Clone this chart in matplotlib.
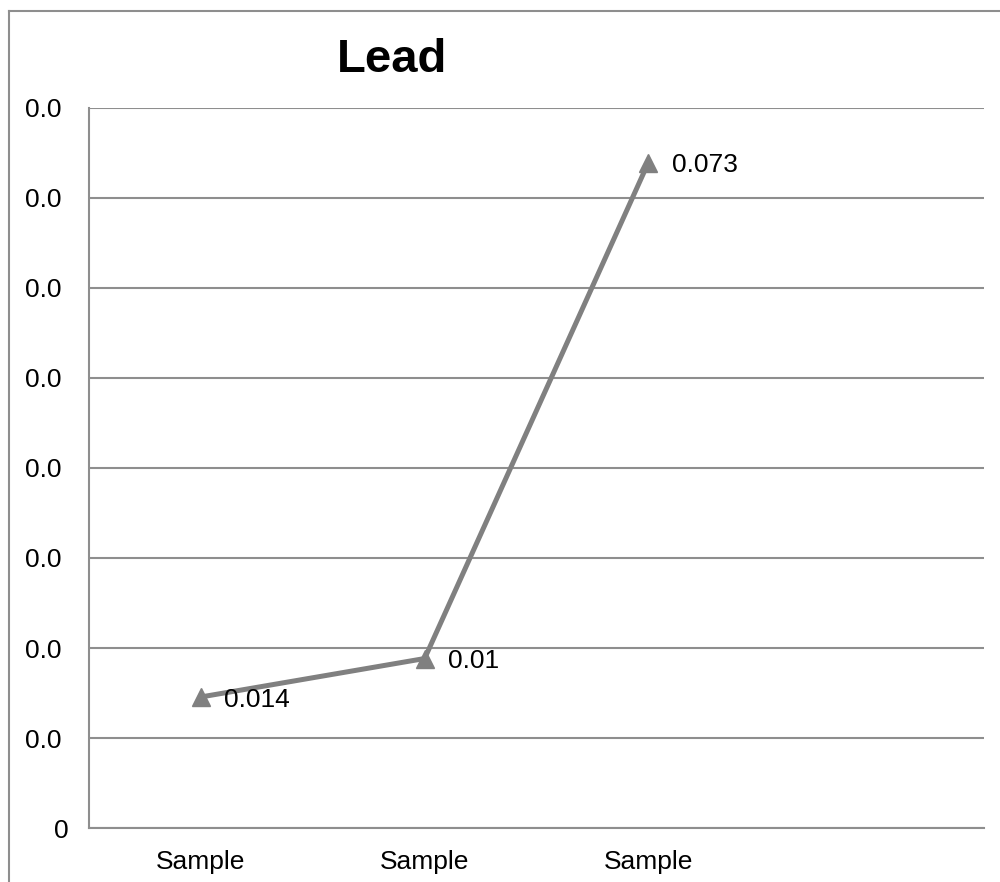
import matplotlib
matplotlib.use("Agg")
import matplotlib.pyplot as plt
from matplotlib.lines import Line2D
from matplotlib.transforms import ScaledTranslation

plt.rcParams["font.family"] = ["Liberation Sans", "DejaVu Sans"]

# data
categories = ["Sample", "Sample", "Sample", ""]
values = [0.01456, 0.01883, 0.07394]
point_labels = ["0.014", "0.01", "0.073"]
y_ticks = [0, 0.01, 0.02, 0.03, 0.04, 0.05, 0.06, 0.07, 0.08]
y_ticklabels = ["0", "0.0", "0.0", "0.0", "0.0", "0.0", "0.0", "0.0", "0.0"]

fig = plt.figure(figsize=(10, 8.82), dpi=100)
ax = fig.add_axes([0.089, 0.0612, 0.895, 0.8164])

gray = "#808080"
grid_gray = "#8e8e8e"

xs = list(range(len(values)))
ax.plot(xs, values, color=gray, lw=3.6, marker="^", ms=13.5, mec=gray, mfc=gray,
        solid_capstyle="butt", zorder=3)
for x, v, lab in zip(xs, values, point_labels):
    ax.annotate(lab, (x, v), xytext=(17, -2), textcoords="offset points",
                ha="left", va="center", fontsize=19, color="black")

ax.set_xlim(-0.5, len(categories) - 0.5)
ax.set_ylim(0, 0.08)
ax.set_yticks(y_ticks)
ax.set_yticklabels(y_ticklabels)
ax.set_xticks(range(len(categories)))
ax.set_xticklabels(categories)
ax.tick_params(axis="both", length=0, labelsize=19)
ax.tick_params(axis="y", pad=20)
ax.tick_params(axis="x", pad=16)

ax.yaxis.grid(True, color=grid_gray, lw=1.5)
ax.set_axisbelow(True)
for side in ["top", "right"]:
    ax.spines[side].set_visible(False)
for side in ["left", "bottom"]:
    ax.spines[side].set_color(grid_gray)
    ax.spines[side].set_linewidth(1.5)

fig.text(0.392, 1 - 60 / 882, "Lead", ha="center", va="center",
         fontsize=34, fontweight="bold")

# outer chart border (right and bottom edges fall outside the image)
fig.add_artist(Line2D([9 / 1000, 9 / 1000], [1 - 11 / 882, -0.1],
                      transform=fig.transFigure, color=grid_gray, lw=1.5))
fig.add_artist(Line2D([9 / 1000, 1.1], [1 - 11 / 882, 1 - 11 / 882],
                      transform=fig.transFigure, color=grid_gray, lw=1.5))

# the "0" label sits a little further right than the others
fig.canvas.draw()
zero_lab = ax.get_yticklabels()[0]
zero_lab.set_transform(zero_lab.get_transform()
                       + ScaledTranslation(0.07, 0, fig.dpi_scale_trans))

fig.savefig("out.png", dpi=100)
